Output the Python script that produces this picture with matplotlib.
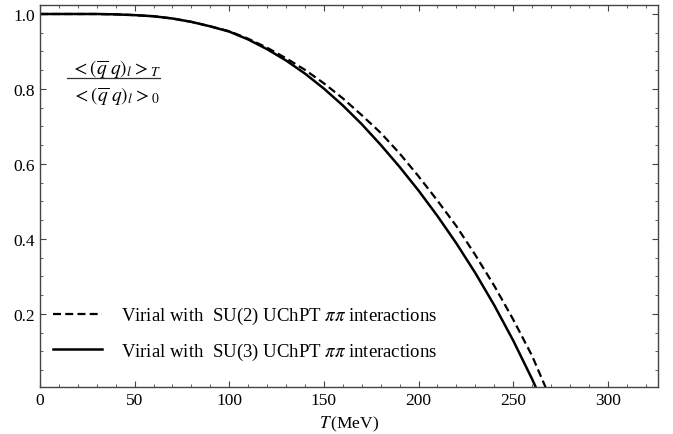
import matplotlib
matplotlib.use("Agg")
import matplotlib.pyplot as plt
from matplotlib.ticker import MultipleLocator

# ------------------------- #
# Dados
# ------------------------- #
T_su3 = [0, 10, 20, 30, 40, 50, 60, 70, 80, 90, 100, 110, 120, 130, 140,
         150, 160, 170, 180, 190, 200, 210, 220, 230, 240, 250, 260, 270]
cond_su3 = [1.0, 1.0, 1.0, 1.0, 0.999, 0.997, 0.994, 0.988, 0.979, 0.967,
            0.953, 0.932, 0.906, 0.876, 0.841, 0.801, 0.756, 0.706, 0.651,
            0.592, 0.529, 0.461, 0.388, 0.309, 0.223, 0.129, 0.026, -0.086]

T_su2 = [0, 10, 20, 30, 40, 50, 60, 70, 80, 90, 100, 110, 120, 130, 140,
         150, 160, 170, 180, 190, 200, 210, 220, 230, 240, 250, 260, 270]
cond_su2 = [1.0, 1.0, 1.0, 1.0, 0.999, 0.997, 0.994, 0.988, 0.979, 0.967,
            0.954, 0.934, 0.910, 0.882, 0.851, 0.815, 0.775, 0.730, 0.683,
            0.628, 0.567, 0.502, 0.434, 0.357, 0.275, 0.185, 0.088, -0.030]

labels = [r"Virial with  SU(2) UChPT $\pi\pi$ interactions",
          r"Virial with  SU(3) UChPT $\pi\pi$ interactions"]

plt.rcParams["font.family"] = ["Liberation Serif", "DejaVu Serif"]
plt.rcParams["mathtext.fontset"] = "stix"

fig = plt.figure(figsize=(6.73, 4.35), dpi=100)
ax = fig.add_axes([40 / 673, 1 - 388 / 435, 618 / 673, 382 / 435])

ax.plot(T_su2, cond_su2, color="black", lw=1.6, dashes=(3.6, 1.9), label=labels[0])
ax.plot(T_su3, cond_su3, color="black", lw=1.8, label=labels[1])

ax.set_xlim(0, 326.5)
ax.set_ylim(0.005, 1.024)
ax.set_xticks([0, 50, 100, 150, 200, 250, 300])
ax.set_yticks([0.2, 0.4, 0.6, 0.8, 1.0])
ax.xaxis.set_minor_locator(MultipleLocator(10))
ax.yaxis.set_minor_locator(MultipleLocator(0.05))
ax.tick_params(which="both", direction="in", top=True, right=True,
               labelsize=12.5, color="#444444")
ax.tick_params(which="major", length=4, width=0.8)
ax.tick_params(which="minor", length=2, width=0.6)
for s in ax.spines.values():
    s.set_color("#444444")
    s.set_linewidth(1.0)

ax.set_xlabel(r"$T\,$(MeV)", fontsize=12.5, labelpad=4)

# fração no canto superior esquerdo
ax.text(0.123, 0.834, r"$<(\overline{q}\;q)_l>_T$", transform=ax.transAxes,
        fontsize=14, ha="center", va="center")
ax.text(0.123, 0.762, r"$<(\overline{q}\;q)_l>_0$", transform=ax.transAxes,
        fontsize=14, ha="center", va="center")
ax.plot([0.0437, 0.194], [0.809, 0.809], transform=ax.transAxes,
        color="#333333", lw=0.9)

ax.legend(loc="lower left", bbox_to_anchor=(0.0, 0.032), frameon=False,
          fontsize=13.5, handlelength=2.6, handletextpad=1.0, labelspacing=0.75,
          borderaxespad=0.3)

fig.savefig("out.png", dpi=100)
